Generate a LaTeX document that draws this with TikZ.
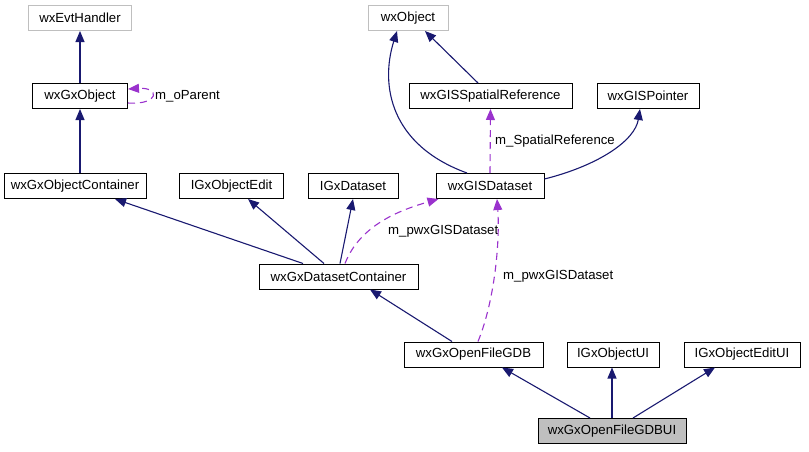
\documentclass[tikz,border=0pt]{standalone}
\usepackage{fontspec}
\setmainfont{Liberation Sans}
\usepackage{xcolor}
\usepackage{tikz}
\usetikzlibrary{arrows.meta,positioning}
\definecolor{edgenavy}{HTML}{191970}
\definecolor{edgepurple}{HTML}{9A32CD}
\definecolor{boxgray}{HTML}{BFBFBF}

\begin{document}
\begin{tikzpicture}[
    x=1pt, y=-1pt,
    cls/.style={rectangle, draw=black, line width=1pt, minimum height=25pt, inner sep=0pt, font=\fontsize{13.2}{15}\selectfont},
    extcls/.style={cls, draw=boxgray},
    curcls/.style={cls, fill=boxgray},
    inherit/.style={-{Triangle[length=11pt,width=9pt]}, draw=edgenavy, line width=1.1pt},
    usage/.style={-{Triangle[length=11pt,width=9pt]}, draw=edgepurple, line width=1.1pt, dash pattern=on 7pt off 5pt},
    lbl/.style={anchor=west, inner sep=0pt, font=\fontsize{13.2}{15}\selectfont}
]
\useasboundingbox (0,0) rectangle (809,451);

% Top row
\node[extcls, minimum width=103pt] (evt) at (80,18) {wxEvtHandler};
\node[extcls, minimum width=80pt] (wxobj) at (408,18) {wxObject};

% Second row
\node[cls, minimum width=95pt] (gxobj) at (80,96) {wxGxObject};
\node[cls, minimum width=163pt] (spref) at (490.5,96) {wxGISSpatialReference};
\node[cls, minimum width=102pt] (ptr) at (648,96) {wxGISPointer};

% Third row
\node[cls, minimum width=142pt] (gxcont) at (75,186) {wxGxObjectContainer};
\node[cls, minimum width=104pt] (objedit) at (231.5,186) {IGxObjectEdit};
\node[cls, minimum width=90pt] (igxds) at (353,186) {IGxDataset};
\node[cls, minimum width=108pt] (gisds) at (490,186) {wxGISDataset};

% Dataset container
\node[cls, minimum width=159pt] (dscont) at (338.5,276.5) {wxGxDatasetContainer};

% Lower rows
\node[cls, minimum width=139pt] (gdb) at (473.5,354.5) {wxGxOpenFileGDB};
\node[cls, minimum width=92pt] (objui) at (613,354.5) {IGxObjectUI};
\node[cls, minimum width=116pt] (editui) at (742,354.5) {IGxObjectEditUI};
\node[curcls, minimum width=148pt] (gdbui) at (612,431) {wxGxOpenFileGDBUI};

% Inheritance
\draw[inherit] (gxobj) -- (evt);
\draw[inherit] (gxcont.north -| gxobj.south) -- (gxobj.south);
\draw[inherit] ([xshift=-35.5pt]dscont.north) -- ([xshift=40pt]gxcont.south);
\draw[inherit] ([xshift=-14.5pt]dscont.north) -- ([xshift=16.5pt]objedit.south);
\draw[inherit] ([xshift=1.5pt]dscont.north) -- (igxds.south);
\draw[inherit] ([xshift=-23pt]gisds.north) .. controls (390,145) and (380,85) .. ([xshift=-11pt]wxobj.south);
\draw[inherit] ([xshift=-12.5pt]spref.north) -- ([xshift=17pt]wxobj.south);
\draw[inherit] ([yshift=7pt]gisds.east) .. controls (600,165) and (635,140) .. ([xshift=-8pt]ptr.south);
\draw[inherit] ([xshift=-21.5pt]gdb.north) -- ([xshift=31.5pt]dscont.south);
\draw[inherit] ([xshift=-22pt]gdbui.north) -- ([xshift=28.5pt]gdb.south);
\draw[inherit] (gdbui.north) -- (gdbui.north |- objui.south);
\draw[inherit] ([xshift=21pt]gdbui.north) -- ([xshift=-27pt]editui.south);

% Usage relations
\draw[usage] ([yshift=-7pt]gxobj.east) .. controls +(32pt,-2pt) and +(32pt,2pt) .. ([yshift=7pt]gxobj.east);
\node[lbl] (lparent) at (155,96) {m\_oParent};

\draw[usage] (gisds.north) -- (spref.south);
\node[lbl] (lspref) at (495,141) {m\_SpatialReference};

\draw[usage] ([xshift=6.5pt]dscont.north) .. controls (360,225) and (400,210) .. ([xshift=3pt]gisds.south west);
\node[lbl] (lds1) at (388,231) {m\_pwxGISDataset};

\draw[usage] ([xshift=4.5pt]gdb.north) .. controls (495,300) and (500,240) .. ([xshift=7pt]gisds.south);
\node[lbl] (lds2) at (503,276) {m\_pwxGISDataset};

\end{tikzpicture}
\end{document}
